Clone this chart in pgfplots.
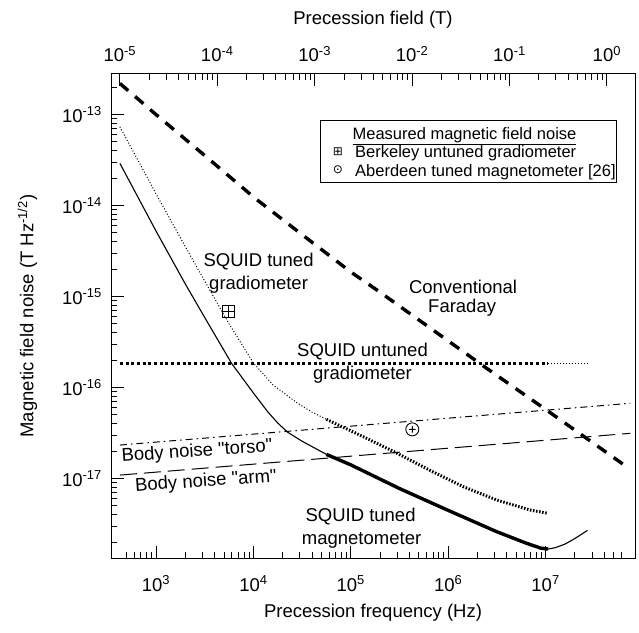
\documentclass[border=0pt]{standalone}
\usepackage{fontspec}
\setmainfont{Liberation Sans}[Ligatures=TeXOff]
\newfontfamily\symfont{DejaVu Sans}
\usepackage{pgfplots}
\pgfplotsset{compat=1.18}
\usetikzlibrary{plotmarks}

\pgfdeclareplotmark{boxplus}{%
 \pgfpathrectangle{\pgfqpoint{-\pgfplotmarksize}{-\pgfplotmarksize}}{\pgfqpoint{2\pgfplotmarksize}{2\pgfplotmarksize}}%
 \pgfpathmoveto{\pgfqpoint{-\pgfplotmarksize}{0pt}}\pgfpathlineto{\pgfqpoint{\pgfplotmarksize}{0pt}}%
 \pgfpathmoveto{\pgfqpoint{0pt}{-\pgfplotmarksize}}\pgfpathlineto{\pgfqpoint{0pt}{\pgfplotmarksize}}%
 \pgfusepathqstroke}
\pgfdeclareplotmark{circplus}{%
 \pgfpathcircle{\pgfpointorigin}{\pgfplotmarksize}%
 \pgfpathmoveto{\pgfqpoint{-0.5\pgfplotmarksize}{0pt}}\pgfpathlineto{\pgfqpoint{0.5\pgfplotmarksize}{0pt}}%
 \pgfpathmoveto{\pgfqpoint{0pt}{-0.5\pgfplotmarksize}}\pgfpathlineto{\pgfqpoint{0pt}{0.5\pgfplotmarksize}}%
 \pgfusepathqstroke}
\newcommand\legfont{\fontsize{16.5}{19.8}\selectfont}

\begin{document}
\fontsize{18.5}{22}\selectfont
\begin{tikzpicture}
\useasboundingbox (-111pt,-73.5pt) rectangle (528pt,558.5pt);
\begin{axis}[
 at={(0,0)}, anchor=south west,
 scale only axis, width=524pt, height=485pt,
 xmode=log, ymode=log,
 xmin=345.1, xmax=8.279e7, ymin=1.321e-18, ymax=2.825e-13,
 xtick={1e3,1e4,1e5,1e6,1e7},
 xticklabels={10\textsuperscript{3},10\textsuperscript{4},10\textsuperscript{5},10\textsuperscript{6},10\textsuperscript{7}},
 minor xtick={500,600,700,800,900,2e3,3e3,4e3,5e3,6e3,7e3,8e3,9e3,2e4,3e4,4e4,5e4,6e4,7e4,8e4,9e4,2e5,3e5,4e5,5e5,6e5,7e5,8e5,9e5,2e6,3e6,4e6,5e6,6e6,7e6,8e6,9e6,2e7,3e7,4e7,5e7,6e7},
 ytick={1e-17,1e-16,1e-15,1e-14,1e-13},
 yticklabels={10\textsuperscript{-17},10\textsuperscript{-16},10\textsuperscript{-15},10\textsuperscript{-14},10\textsuperscript{-13}},
 minor ytick={2e-18,3e-18,4e-18,5e-18,6e-18,7e-18,8e-18,9e-18,2e-17,3e-17,4e-17,5e-17,6e-17,7e-17,8e-17,9e-17,2e-16,3e-16,4e-16,5e-16,6e-16,7e-16,8e-16,9e-16,2e-15,3e-15,4e-15,5e-15,6e-15,7e-15,8e-15,9e-15,2e-14,3e-14,4e-14,5e-14,6e-14,7e-14,8e-14,9e-14,2e-13},
 xtick pos=left, ytick pos=left,
 tick align=inside,
 major tick length=13pt, minor tick length=6.5pt,
 axis line style={line width=1pt},
 every tick/.style={black, line width=0.9pt},
 xticklabel style={anchor=base, yshift=-32.5pt},
 yticklabel style={xshift=-2.8pt},
 xlabel={Precession frequency (Hz)},
 xlabel style={at={(axis description cs:0.5,-0.1206)}, anchor=base},
 ylabel={Magnetic field noise (T Hz\textsuperscript{-1/2})},
 ylabel style={at={(axis description cs:-0.148,0.5)}, anchor=base},
]
% Conventional Faraday
\addplot[black, line width=3.4pt, dash pattern=on 11pt off 9pt] coordinates {
 (425.8,2.198e-13)(1000,1.0e-13)(3162,3.548e-14)(1.04e4,1.202e-14)(31623,4.786e-15)(1e5,1.862e-15)(1.862e5,1.175e-15)(2.483e6,1.626e-16)(1e7,5.754e-17)(6.383e7,1.413e-17)};
% SQUID untuned gradiometer
\addplot[black, line width=3pt, dash pattern=on 3pt off 2.7pt] coordinates {(425.8,1.84e-16)(1.064e7,1.84e-16)};
\addplot[black, line width=1pt, dash pattern=on 1pt off 2pt] coordinates {(1.064e7,1.84e-16)(2.77e7,1.84e-16)};
% SQUID tuned gradiometer
\addplot[black, line width=1pt, dash pattern=on 1pt off 2pt] coordinates {
 (425.8,7.345e-14)(1000,1.349e-14)(1995,3.548e-15)(3162,1.479e-15)(5623,5.012e-16)(1e4,1.862e-16)(15849,1.072e-16)(28184,6.761e-17)(39811,5.370e-17)(56234,4.467e-17)};
\addplot[black, line width=3pt, dash pattern=on 1.5pt off 1.6pt] coordinates {
 (56234,4.467e-17)(1.343e5,2.884e-17)(2.958e5,1.905e-17)(6.501e5,1.230e-17)(1.429e6,8.128e-18)(3.148e6,5.808e-18)(6.918e6,4.508e-18)(1.064e7,4.140e-18)};
% SQUID tuned magnetometer
\addplot[black, line width=1.1pt] coordinates {
 (425.8,2.911e-14)(1000,5.248e-15)(1995,1.380e-15)(3162,5.888e-16)(5984,1.837e-16)(1e4,8.710e-17)(14125,5.370e-17)(17783,4.074e-17)(22387,3.236e-17)(31623,2.570e-17)(56234,1.841e-17)};
\addplot[black, line width=3.4pt] coordinates {
 (56234,1.841e-17)(1e5,1.413e-17)(316228,7.762e-18)(1e6,4.467e-18)(3.162e6,2.600e-18)(6.310e6,1.950e-18)(8.913e6,1.718e-18)(1.064e7,1.679e-18)};
\addplot[black, line width=1.1pt] coordinates {
 (1.064e7,1.679e-18)(1.259e7,1.738e-18)(1.585e7,1.905e-18)(1.995e7,2.188e-18)(2.692e7,2.692e-18)};
% Body noise
\addplot[black, line width=1pt, dash pattern=on 7pt off 4pt on 1.5pt off 4pt] coordinates {(425.8,2.333e-17)(7.4e7,6.714e-17)};
\addplot[black, line width=1pt, dash pattern=on 17pt off 7pt] coordinates {(425.8,1.091e-17)(7.4e7,3.141e-17)};
% measured points
\addplot[only marks, mark=boxplus, mark size=6pt, mark options={line width=0.9pt}] coordinates {(5.6e3,6.934e-16)};
\addplot[only marks, mark=circplus, mark size=6.5pt, mark options={line width=0.9pt}] coordinates {(4.28e5,3.47e-17)};
% labels
\node at (axis cs:1.13e4,2.41e-15) {SQUID tuned};
\node at (axis cs:1.13e4,1.34e-15) {gradiometer};
\node at (axis cs:1.32e5,2.49e-16) {SQUID untuned};
\node at (axis cs:1.32e5,1.371e-16) {gradiometer};
\node at (axis cs:1.42e6,1.282e-15) {Conventional};
\node at (axis cs:1.39e6,7.482e-16) {Faraday};
\node[rotate=4] at (axis cs:2.64e3,1.97e-17) {Body noise "torso"};
\node[rotate=4] at (axis cs:3.26e3,9.226e-18) {Body noise "arm"};
\node at (axis cs:1.26e5,3.80e-18) {SQUID tuned};
\node at (axis cs:1.29e5,2.11e-18) {magnetometer};
% legend
\draw[line width=1pt] (axis description cs:0.3989,0.7763) rectangle (axis description cs:0.9656,0.9041);
\node[anchor=base, inner sep=0pt] at (axis description cs:0.6746,0.8647) {\legfont\underline{Measured magnetic field noise}};
\node[anchor=base west, inner sep=0pt] at (axis description cs:0.4656,0.8264) {\legfont Berkeley untuned gradiometer};
\node[anchor=base west, inner sep=0pt] at (axis description cs:0.4656,0.7887) {\legfont Aberdeen tuned magnetometer [26]};
\node[inner sep=0pt] at (axis description cs:0.4332,0.8388) {\symfont\fontsize{12}{14}\selectfont ⊞};
\node[inner sep=0pt] at (axis description cs:0.4332,0.8010) {\symfont\fontsize{12}{14}\selectfont ⊙};
\end{axis}
\begin{axis}[
 at={(0,0)}, anchor=south west,
 scale only axis, width=524pt, height=485pt,
 xmode=log, xmin=8.105e-6, xmax=1.9445,
 ymin=0, ymax=1, hide y axis,
 axis x line*=top, tick align=inside,
 major tick length=13pt, minor tick length=6.5pt,
 axis line style={line width=1pt},
 every tick/.style={black, line width=0.9pt},
 xtick={1e-5,1e-4,1e-3,1e-2,1e-1,1},
 xticklabels={10\textsuperscript{-5},10\textsuperscript{-4},10\textsuperscript{-3},10\textsuperscript{-2},10\textsuperscript{-1},10\textsuperscript{0}},
 minor xtick={2e-5,3e-5,4e-5,5e-5,6e-5,7e-5,8e-5,9e-5,2e-4,3e-4,4e-4,5e-4,6e-4,7e-4,8e-4,9e-4,2e-3,3e-3,4e-3,5e-3,6e-3,7e-3,8e-3,9e-3,2e-2,3e-2,4e-2,5e-2,6e-2,7e-2,8e-2,9e-2,2e-1,3e-1,4e-1,5e-1,6e-1,7e-1,8e-1,9e-1},
 xticklabel style={anchor=base, yshift=11.8pt},
 xlabel={Precession field (T)},
 xlabel style={at={(axis description cs:0.5,1.1014)}, anchor=base},
]
\end{axis}
\end{tikzpicture}
\end{document}
